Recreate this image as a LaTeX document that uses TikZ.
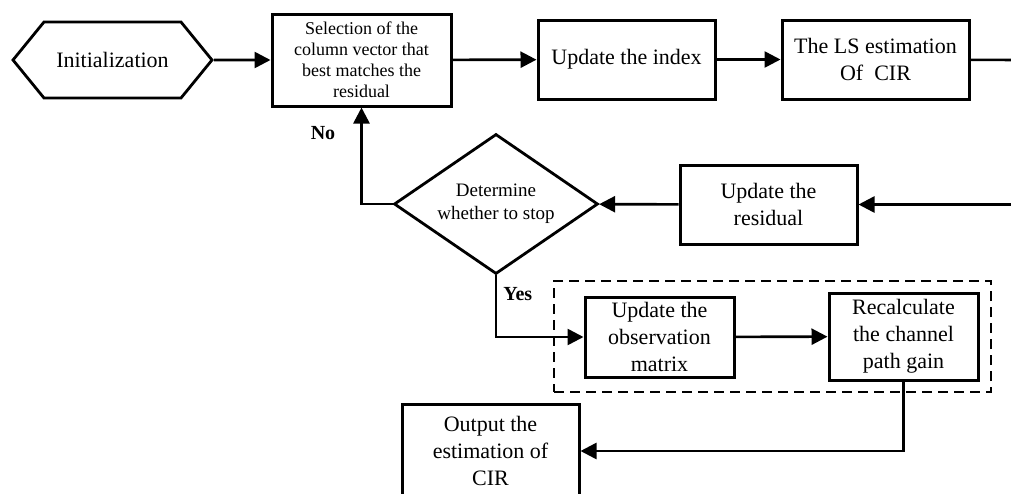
\documentclass[tikz,border=0pt]{standalone}
\usepackage{fontspec}
\setmainfont{Liberation Serif}
\usetikzlibrary{shapes, arrows.meta, positioning}

\begin{document}
\begin{tikzpicture}[
  x=1pt, y=-1pt,
  >={Triangle[length=16pt,width=16pt]},
  line width=2.6pt,
  start/.style={signal, signal to=west and east, signal pointer angle=101.6, draw, line width=2.8pt, minimum width=199pt, minimum height=76pt, inner sep=0pt, font=\fontsize{22}{27}\selectfont},
  block/.style={rectangle, draw, line width=3pt, inner sep=0pt, align=center, font=\fontsize{22}{27}\selectfont},
  decision/.style={diamond, draw, line width=2.8pt, aspect=1.45, minimum width=204pt, minimum height=140pt, inner sep=0pt, align=center, font=\fontsize{19}{23}\selectfont},
  group/.style={draw, line width=1.6pt, dash pattern=on 10pt off 6pt},
  tag/.style={inner sep=0pt, font=\fontsize{20}{24}\selectfont\bfseries},
]

\clip (0,0) rectangle (1011,493);

\node[start] (init) at (112.5,60) {Initialization};
\node[block, minimum width=179pt, minimum height=92pt, font=\fontsize{18}{21}\selectfont] (select) at (361.5,60) {Selection of the\\column vector that\\best matches the\\residual};
\node[block, minimum width=177pt, minimum height=79pt] (index) at (626.5,59.5) {Update the index};
\node[block, minimum width=187pt, minimum height=79pt] (lsest) at (875.5,59.5) {The LS estimation\\Of~~CIR};
\node[block, minimum width=177pt, minimum height=79pt] (resid) at (768.5,204.5) {Update the\\residual};
\node[decision] (stop) at (496,204) {Determine\\whether to stop};

% refinement stage
\node[group, minimum width=437pt, minimum height=111pt] (stage) at (772.5,336.5) {};
\node[block, minimum width=149pt, minimum height=80pt] (obsmat) at (659.5,337) {Update the\\observation\\matrix};
\node[block, minimum width=149pt, minimum height=87pt] (gain) at (903.5,336.5) {Recalculate\\the channel\\path gain};
\node[block, minimum width=177pt, minimum height=94pt] (output) at (490.5,451) {Output the\\estimation of\\CIR};

\coordinate (rtop) at (1020,60);
\coordinate (rmid) at (1020,204.5);

\draw[->] (init) -- (select);
\draw[->] (select) -- (index);
\draw[->] (index) -- (lsest);
\draw (lsest) -- (rtop);
\draw[->] (rmid) -- (resid);
\draw[->] (resid) -- (stop);
\draw[->] (stop.west) -| node[tag, pos=0.87, left=25pt]{No} (select.south);
\draw[->] (stop.south) |- node[tag, pos=0.15, right=6pt]{Yes} (obsmat.west);
\draw[->] (obsmat) -- (gain);
\draw[->] (gain.south) |- (output.east);

\end{tikzpicture}
\end{document}
